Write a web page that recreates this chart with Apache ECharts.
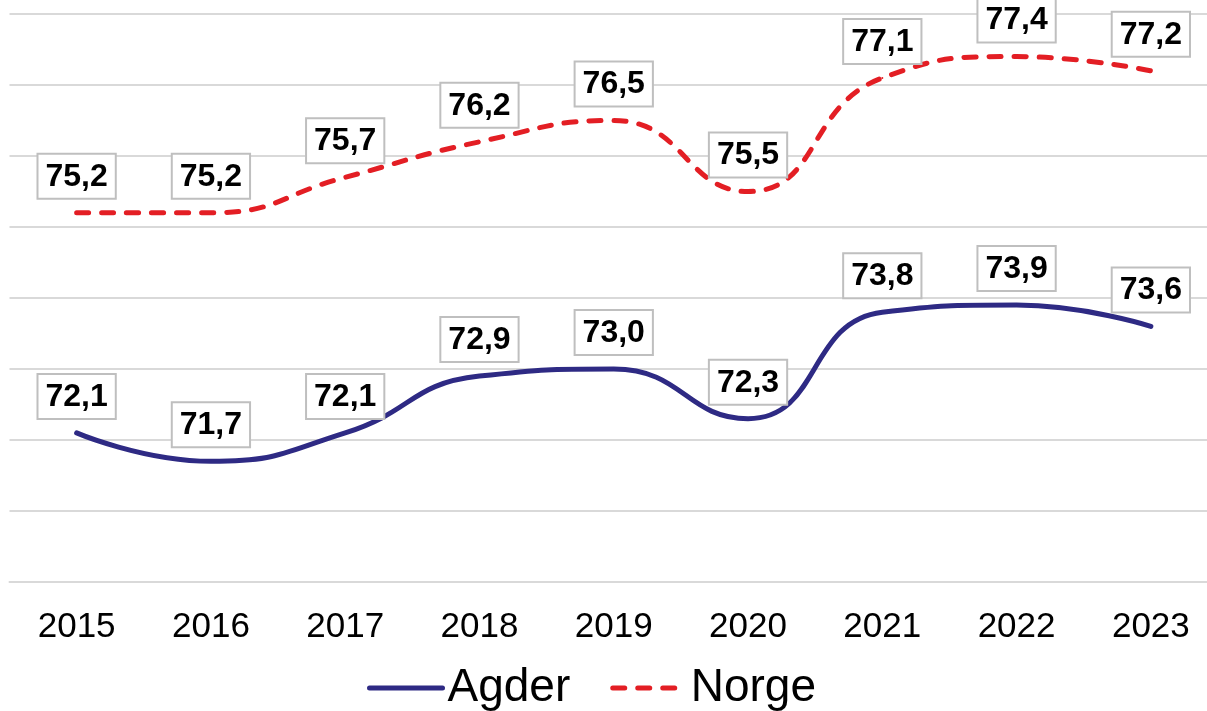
<!DOCTYPE html>
<html>
<head>
<meta charset="utf-8">
<script src="https://cdn.jsdelivr.net/npm/echarts@6/dist/echarts.min.js"></script>
<style>
html,body{margin:0;padding:0;background:#fff;overflow:hidden;}
#chart{width:1218px;height:711px;}
</style>
</head>
<body>
<div id="chart"></div>
<script>
const years = ['2015','2016','2017','2018','2019','2020','2021','2022','2023'];
const agder = [72.1, 71.7, 72.1, 72.9, 73.0, 72.3, 73.8, 73.9, 73.6];
const norge = [75.2, 75.2, 75.7, 76.2, 76.5, 75.5, 77.1, 77.4, 77.2];
const seriesNames = ['Agder', 'Norge'];

const FONT = '"Liberation Sans", Arial, sans-serif';
const fmt = p => p.value.toFixed(1).replace('.', ',');
const labelStyle = {
  show: true,
  position: 'top',
  distance: 14,
  formatter: fmt,
  fontFamily: FONT,
  fontSize: 32,
  fontWeight: 'bold',
  color: '#000',
  backgroundColor: '#fff',
  borderColor: '#BFBFBF',
  borderWidth: 2,
  padding: [5, 7, 4, 7],
  lineHeight: 34
};

const chart = echarts.init(document.getElementById('chart'));
chart.setOption({
  animation: false,
  grid: { left: 9.5, right: 0, top: 14, bottom: 129 },
  xAxis: {
    type: 'category',
    data: years,
    boundaryGap: true,
    axisLine: { show: true, lineStyle: { color: '#D9D9D9', width: 2 } },
    axisTick: { show: false },
    axisLabel: { fontFamily: FONT, fontSize: 35, color: '#000', margin: 28 }
  },
  yAxis: {
    type: 'value',
    min: 70, max: 78, interval: 1,
    axisLabel: { show: false },
    axisLine: { show: false },
    axisTick: { show: false },
    splitLine: { lineStyle: { color: '#D9D9D9', width: 2 } }
  },
  legend: {
    top: 660,
    left: 362,
    itemWidth: 73,
    itemHeight: 14,
    itemGap: 40,
    lineStyle: { width: 5 },
    itemStyle: { opacity: 0 },
    textStyle: { fontFamily: FONT, fontSize: 46, color: '#000' },
    data: seriesNames
  },
  series: [
    {
      name: seriesNames[0],
      type: 'line',
      data: agder,
      smooth: 0.5,
      symbol: 'circle',
      symbolSize: 2,
      showSymbol: true,
      itemStyle: { color: '#2E2A84' },
      lineStyle: { color: '#2E2A84', width: 5, cap: 'round' },
      label: labelStyle
    },
    {
      name: seriesNames[1],
      type: 'line',
      data: norge,
      smooth: 0.5,
      symbol: 'circle',
      symbolSize: 2,
      showSymbol: true,
      itemStyle: { color: '#E31E24' },
      lineStyle: { color: '#E31E24', width: 5, type: [12, 13], cap: 'round' },
      label: labelStyle
    }
  ]
});
</script>
</body>
</html>
